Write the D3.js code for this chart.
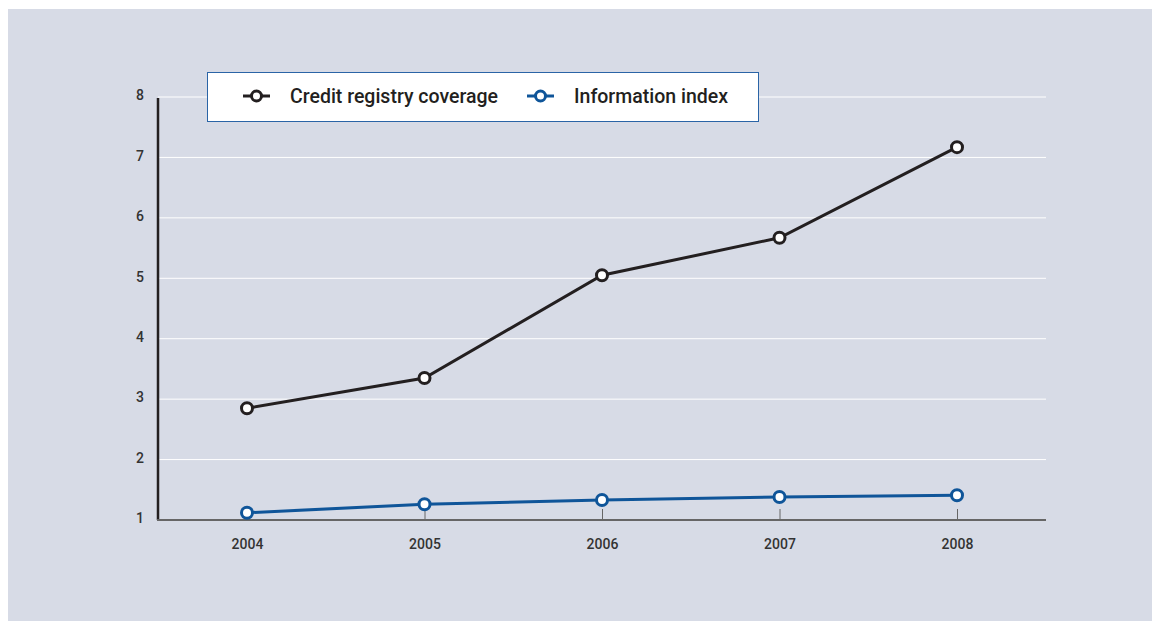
<!DOCTYPE html>
<html><head><meta charset="utf-8">
<script src="https://cdn.jsdelivr.net/npm/d3@7"></script>
<style>
html,body{margin:0;padding:0;background:#fff;}
svg{display:block;}
text{font-family:Roboto,"Liberation Sans",Arial,sans-serif;}
</style></head>
<body>
<svg id="chart" width="1152" height="623"></svg>
<script>
const years = [2004, 2005, 2006, 2007, 2008];
const creditCoverage = [2.85, 3.35, 5.05, 5.67, 7.17];
const infoIndex = [1.12, 1.26, 1.33, 1.38, 1.41];
const yTicks = [1, 2, 3, 4, 5, 6, 7, 8];
const seriesNames = ["Credit registry coverage", "Information index"];
const seriesColors = ["#231f20", "#0f5599"];

const svg = d3.select("#chart");
svg.append("rect").attr("x",8).attr("y",9).attr("width",1144).attr("height",612).attr("fill","#d7dbe6");

const x0 = 158, x1 = 1046;
const x = d3.scalePoint().domain(years).range([247, 957]);
const y = d3.scaleLinear().domain([1, 8]).range([520, 97]);

// gridlines
svg.append("g").selectAll("line").data(yTicks.filter(t=>t>1)).join("line")
  .attr("x1", x0).attr("x2", x1)
  .attr("y1", d=>y(d)).attr("y2", d=>y(d))
  .attr("stroke","#ffffff").attr("stroke-width",1);

// y axis
const yAxis = svg.append("g").attr("transform",`translate(${x0},0)`)
  .call(d3.axisLeft(y).tickValues(yTicks).tickSize(0).tickPadding(14).tickFormat(d3.format("d")));
yAxis.select(".domain").remove();
yAxis.selectAll("text").attr("font-size",14).attr("font-weight",500).attr("fill","#333").attr("dy","0.2em");
svg.append("line").attr("x1",x0).attr("x2",x0).attr("y1",y(8)+1).attr("y2",y(1))
  .attr("stroke","#231f20").attr("stroke-width",2.5);

// x axis
const xAxis = svg.append("g").attr("transform",`translate(0,${y(1)})`)
  .call(d3.axisTop(x).tickSize(11).tickFormat(d3.format("d")));
xAxis.select(".domain").remove();
xAxis.selectAll(".tick line").attr("stroke","#666").attr("stroke-width",1);
xAxis.selectAll("text").attr("y",25).attr("dy","0.32em").attr("font-size",14).attr("font-weight",500).attr("fill","#333");
svg.append("line").attr("x1",x0-1).attr("x2",x1).attr("y1",y(1)).attr("y2",y(1))
  .attr("stroke","#666").attr("stroke-width",2.2);

// series
const series = [creditCoverage, infoIndex];
const line = d3.line().x((d,i)=>x(years[i])).y(d=>y(d));
series.forEach((vals, s) => {
  svg.append("path").datum(vals).attr("d", line)
    .attr("fill","none").attr("stroke",seriesColors[s]).attr("stroke-width",3);
  svg.append("g").selectAll("circle").data(vals).join("circle")
    .attr("cx",(d,i)=>x(years[i])).attr("cy",d=>y(d)).attr("r",5.5)
    .attr("fill","#fff").attr("stroke",seriesColors[s]).attr("stroke-width",3);
});

// legend
const lg = svg.append("g");
lg.append("rect").attr("x",207.5).attr("y",72.5).attr("width",551).attr("height",49)
  .attr("fill","#fff").attr("stroke","#2a64a6").attr("stroke-width",1);
const legendX = [243, 527];
seriesNames.forEach((n, s) => {
  const g = lg.append("g").attr("transform",`translate(${legendX[s]},96)`);
  g.append("line").attr("x1",0).attr("x2",27).attr("y1",0).attr("y2",0)
    .attr("stroke",seriesColors[s]).attr("stroke-width",3);
  g.append("circle").attr("cx",13.5).attr("cy",0).attr("r",5)
    .attr("fill","#fff").attr("stroke",seriesColors[s]).attr("stroke-width",3);
  g.append("text").attr("x",47).attr("y",0).attr("dy","0.35em")
    .attr("font-size",19.5).attr("font-weight",500).attr("fill","#231f20").text(n);
});
</script>
</body></html>
